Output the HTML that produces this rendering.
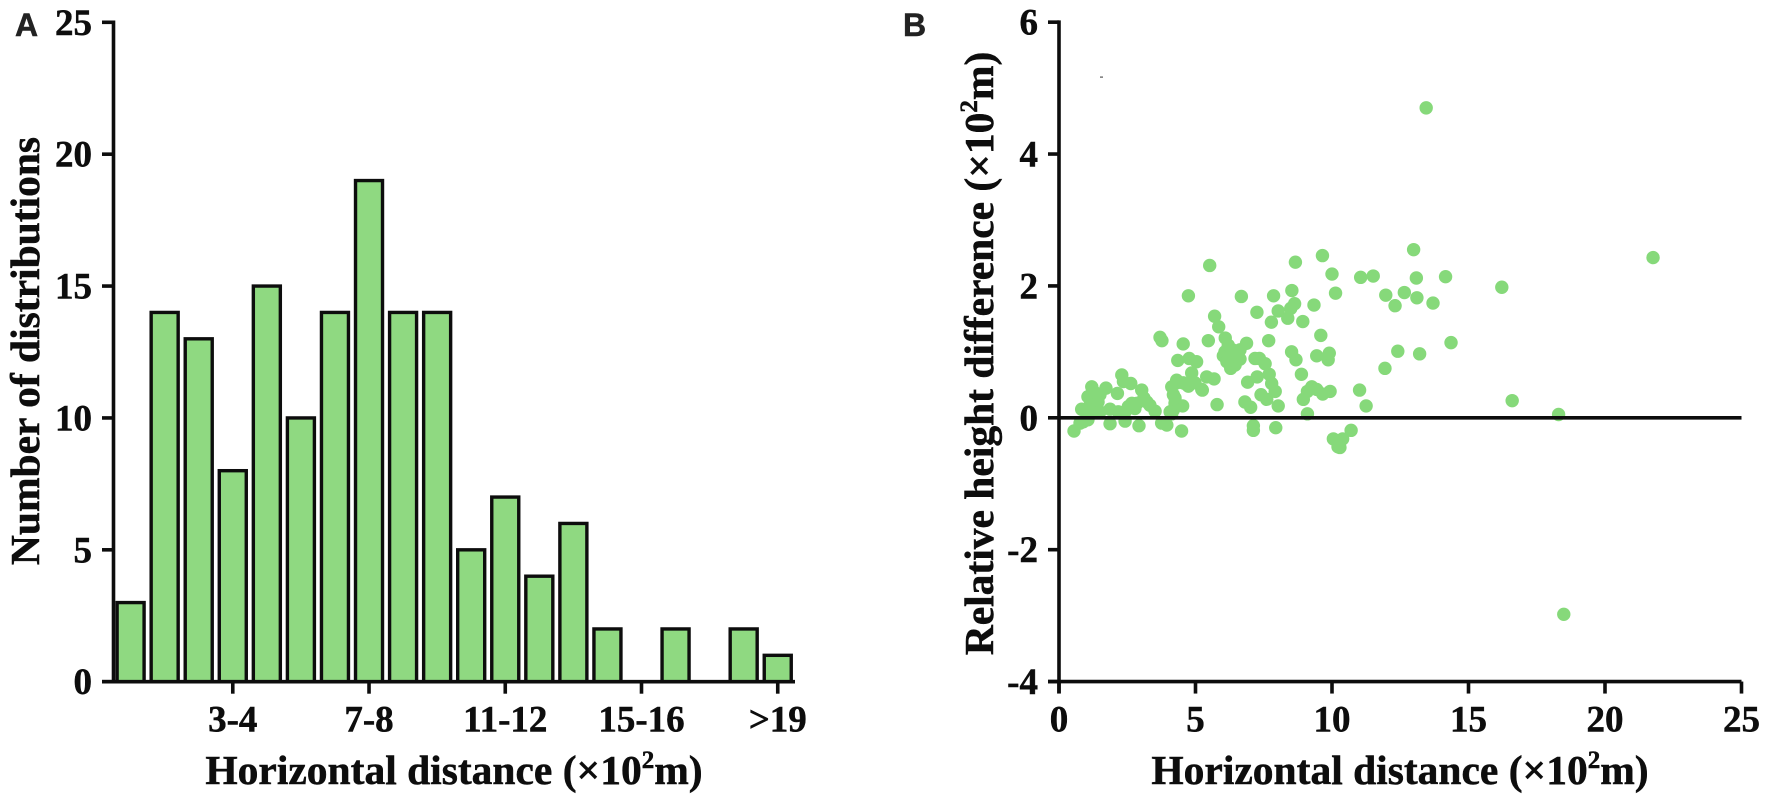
<!DOCTYPE html>
<html lang="en">
<head>
<meta charset="utf-8">
<title>Horizontal distance distribution and relative height difference</title>
<style>
  html, body { margin: 0; padding: 0; background: #fff; }
  svg { display: block; }
  text { font-family: "Liberation Serif", serif; font-weight: bold; fill: #0d0d0d; stroke: #0d0d0d; stroke-width: 0.5px; }
  .tick { font-size: 37px; }
  .title { font-size: 41.5px; }
  .panel { font-family: "Liberation Sans", sans-serif; font-size: 32px; fill: #222; stroke: #222; }
</style>
</head>
<body>
<svg id="figure" width="1772" height="804" viewBox="0 0 1772 804" xmlns="http://www.w3.org/2000/svg">
  <rect width="1772" height="804" fill="#fff"/>
  <text class="panel" x="15" y="36">A</text>
  <text class="panel" x="903" y="36">B</text>
  <g id="bars-layer"></g>
  <g id="axes-a"></g>
  <g id="points-layer"></g>
  <g id="axes-b"></g>
  <text class="title" x="454" y="784" text-anchor="middle">Horizontal distance (×10<tspan font-size="25" dy="-16">2</tspan><tspan dy="16">m)</tspan></text>
  <text class="title" transform="translate(39 351) rotate(-90)" text-anchor="middle">Number of distributions</text>
  <text class="title" x="1400" y="784" text-anchor="middle">Horizontal distance (×10<tspan font-size="25" dy="-16">2</tspan><tspan dy="16">m)</tspan></text>
  <text class="title" transform="translate(993 353.5) rotate(-90)" text-anchor="middle">Relative height difference (×10<tspan font-size="25" dy="-16">2</tspan><tspan dy="16">m)</tspan></text>
  <rect x="1100" y="76.5" width="3" height="1.2" fill="#555"/>
</svg>
<script>
const histCounts = [3,14,13,8,15,10,14,19,14,14,5,7,4,6,2,0,2,0,2,1];
const histTickLabels = ["3-4","7-8","11-12","15-16",">19"];
const histTickBins = [3,7,11,15,19];
const histYTicks = [0,5,10,15,20,25];
const scatterXTicks = [0,5,10,15,20,25];
const scatterYTicks = [-4,-2,0,2,4,6];
const pointX = [
  16.22,21.76,16.6,18.3,18.49,13.45,12.41,13.21,14.36,11.94,11.01,11.25,10.7,10.39,10.29,10.05,10.22,
  7.12,7.12,7.94,9.1,8.88,8.95,9.1,9.26,9.44,9.66,9.93,8.03,5.79,6.81,7.02,7.4,7.61,7.92,7.79,7.7,7.55,
  7.34,7.18,7.26,6.91,5.41,5.68,5.23,8.68,8.52,9.44,9.86,9.9,6.02,6.26,6.63,6.29,6.51,
  5.52,8.66,9.65,10,10.13,11.05,11.51,6.68,7.86,8.53,8.63,8.49,9.34,7.25,8.03,8.38,7.78,8.93,9.59,7.68,
  5.7,5.85,6.09,5.47,6.87,6.63,6.08,
  12.99,13.09,14.16,11.97,12.65,13.11,12.31,13.7,
  0.55,0.89,0.83,1.14,1.2,1.5,1.72,1.07,1.38,1.26,1.87,1.87,2.14,2.3,2.36,2.63,3.03,2.17,2.54,2.78,2.42,
  2.93,3.11,3.33,3.52,3.76,3.95,4.49,4.19,4.25,4.53,4.13,4.19,4.13,4.31,4.74,4.86,5.25,4.35,4.77,5.04,
  4.55,3.7,3.77,4.74,
  6.37,6.56,6.2,6.35,6.45,6.15,
  1.06,1.32,1.43,1.2,0.77,1.06,1.5,2.42,2.67,2.86,3.22,4.07,4.25,4.31,4.69,4.98,4.55
];
const pointY = [
  1.98,2.43,0.26,0.05,-2.98,4.7,1.01,0.97,1.14,0.75,0.42,0.18,-0.19,-0.32,-0.45,-0.32,-0.44,
  -0.12,-0.19,-0.15,0.06,0.66,0.28,0.4,0.47,0.43,0.36,0.4,0.18,0.2,0.24,0.16,0.35,0.28,0.4,0.52,0.66,0.82,
  0.9,0.9,0.62,0.54,0.62,0.59,0.43,0.88,1,0.94,0.88,0.98,0.94,0.95,0.89,0.75,0.98,
  2.31,2.36,2.46,2.18,1.89,2.13,2.15,1.84,1.85,1.93,1.73,1.66,1.71,1.6,1.62,1.51,1.45,1.46,1.25,1.17,
  1.54,1.38,1.21,1.17,1.13,1.03,1,
  2.55,2.12,2.14,1.86,1.9,1.82,1.7,1.74,
  -0.2,-0.06,0.13,0.27,0.47,0.35,0.45,0.14,0.12,0.22,0.13,-0.09,0.37,0.65,0.55,0.52,0.42,0.09,0.17,0.14,-0.05,
  -0.12,0.3,0.19,0.1,-0.08,-0.11,-0.2,0.12,0.22,0.18,0.06,0.35,0.47,0.57,0.48,0.68,0.42,0.87,0.9,0.85,
  1.12,1.22,1.17,1.85,
  0.92,0.88,1.1,1.03,0.8,0.85,
  0.32,0.38,0.24,0.09,-0.08,-0.03,0.09,0.09,0.22,0.22,0.24,0.09,0.3,0.53,0.5,0.53,0.53
];

const NS = "http://www.w3.org/2000/svg";
function make(tag, attrs, parent, content) {
  const el = document.createElementNS(NS, tag);
  for (const k in attrs) el.setAttribute(k, attrs[k]);
  if (content !== undefined) el.textContent = content;
  parent.appendChild(el);
  return el;
}

const histX = bin => 130.6 + bin * 34.06;
const histY = v => 681.7 - v * 26.376;
const scatX = v => 1059 + v * 27.3;
const scatY = v => 417.8 - v * 65.94;

const INK = "#0d0d0d";
const AXIS_W = 3.6;
const barsLayer = document.getElementById("bars-layer");
const axesA = document.getElementById("axes-a");
const pointsLayer = document.getElementById("points-layer");
const axesB = document.getElementById("axes-b");

histCounts.forEach((v, i) => {
  if (v === 0) return;
  const el = make("rect", {
    x: histX(i) - 13.5, y: histY(v), width: 27, height: histY(0) - histY(v),
    fill: "#8fd981", stroke: INK, "stroke-width": 3.4
  }, barsLayer);
  
  
});

function axisLine(parent, x1, y1, x2, y2, name) {
  const el = make("line", { x1, y1, x2, y2, stroke: INK, "stroke-width": AXIS_W }, parent);
  
  
  return el;
}
function tickLabel(parent, x, y, anchor, str, name) {
  const el = make("text", { x, y, "text-anchor": anchor, class: "tick" }, parent, str);
  
  
  return el;
}

/* Panel A axes */
axisLine(axesA, 113.5, histY(25) - 1.8, 113.5, histY(0) + 1.8, "histogram-y-axis");
axisLine(axesA, 102, histY(0), 795, histY(0), "histogram-x-axis");
histYTicks.forEach(v => {
  axisLine(axesA, 102, histY(v), 113.5, histY(v), "histogram-y-tick");
  tickLabel(axesA, 92, histY(v) + 12.5, "end", String(v), "histogram-y-tick-label");
});
histTickBins.forEach((b, i) => {
  axisLine(axesA, histX(b), histY(0), histX(b), histY(0) + 12, "histogram-x-tick");
  tickLabel(axesA, histX(b), 731.7, "middle", histTickLabels[i], "histogram-x-tick-label");
});

/* Panel B points */
pointX.forEach((x, i) => {
  const el = make("circle", { cx: scatX(x), cy: scatY(pointY[i]), r: 6.7, fill: "#86d97a" }, pointsLayer);
  
  
});

/* Panel B axes */
axisLine(axesB, scatX(0), scatY(6) - 1.8, scatX(0), scatY(-4) + 12, "scatter-y-axis");
axisLine(axesB, 1048, scatY(-4), scatX(25), scatY(-4), "scatter-x-axis");
axisLine(axesB, scatX(0), scatY(0), scatX(25), scatY(0), "zero-reference-line");
scatterYTicks.forEach(v => {
  axisLine(axesB, 1048, scatY(v), scatX(0), scatY(v), "scatter-y-tick");
  tickLabel(axesB, 1038, scatY(v) + 12.5, "end", String(v), "scatter-y-tick-label");
});
scatterXTicks.forEach(v => {
  axisLine(axesB, scatX(v), scatY(-4), scatX(v), scatY(-4) + 12, "scatter-x-tick");
  tickLabel(axesB, scatX(v), 731.7, "middle", String(v), "scatter-x-tick-label");
});
</script>
</body>
</html>
